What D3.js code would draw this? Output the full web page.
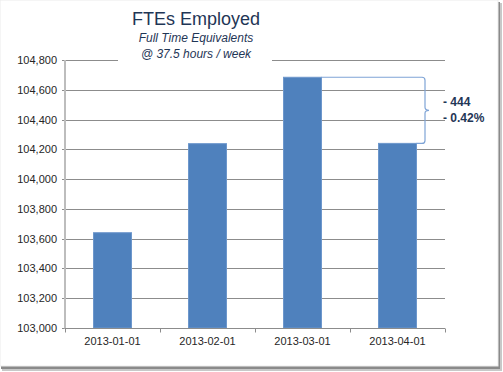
<!DOCTYPE html>
<html>
<head>
<meta charset="utf-8">
<script src="https://cdn.jsdelivr.net/npm/d3@7"></script>
<style>
  body { margin: 0; background: #fff; }
  svg { display: block; font-family: "Liberation Sans", Arial, sans-serif; }
</style>
</head>
<body>
<div id="plotholder"></div>
<script>
const categories = ['2013-01-01', '2013-02-01', '2013-03-01', '2013-04-01']
const fte = [103640, 104238, 104684, 104240]
const yticks = [103000, 103200, 103400, 103600, 103800, 104000, 104200, 104400, 104600, 104800]
const title = 'FTEs Employed'
const subtitles = ['Full Time Equivalents', '@ 37.5 hours / week']
const notes = ['- 444', '- 0.42%']

const width = 503
const height = 372
const margin = { left: 65, right: 58, top: 60, bottom: 44 }

const svg = d3.select('#plotholder').append('svg')
  .attr('width', width)
  .attr('height', height)

// frame with shadow on the right and bottom
svg.append('rect').attr('x', 2).attr('y', 3).attr('width', 500).attr('height', 368).attr('fill', '#c8c8c8')
svg.append('rect').attr('x', 1).attr('y', 2).attr('width', 499).attr('height', 367).attr('fill', '#8a8a8a')
svg.append('rect').attr('x', 0).attr('y', 0).attr('width', 498).attr('height', 366)
  .attr('fill', '#fff').attr('stroke', '#ececec').attr('stroke-width', 1)

const xscale = d3.scaleBand()
  .domain(categories)
  .range([margin.left, width - margin.right])
  .paddingInner(0.6)
  .paddingOuter(0.3)

const yscale = d3.scaleLinear()
  .domain([103000, 104800])
  .range([height - margin.bottom, margin.top])

// gridlines
svg.append('g').selectAll('line')
  .data(yticks)
  .enter()
  .append('line')
  .attr('x1', margin.left - 3)
  .attr('x2', width - margin.right)
  .attr('y1', d => Math.round(yscale(d)) + 0.5)
  .attr('y2', d => Math.round(yscale(d)) + 0.5)
  .attr('stroke', '#8c8c8c')
  .attr('stroke-width', 1)

// y tick labels
svg.append('g').selectAll('text')
  .data(yticks)
  .enter()
  .append('text')
  .attr('x', margin.left - 8)
  .attr('y', d => yscale(d) + 4)
  .attr('text-anchor', 'end')
  .attr('font-size', 11)
  .attr('fill', '#262626')
  .text(d => d3.format(',')(d))

// bars
svg.append('g').selectAll('rect')
  .data(fte)
  .enter()
  .append('rect')
  .attr('x', (d, i) => xscale(categories[i]))
  .attr('width', xscale.bandwidth())
  .attr('y', d => yscale(d))
  .attr('height', d => yscale(103000) - yscale(d))
  .attr('fill', '#4f81bd')
  .attr('stroke', '#6d97cc')
  .attr('stroke-width', 1)

// axes
const y0 = Math.round(yscale(103000)) + 0.5
svg.append('line')
  .attr('x1', margin.left).attr('x2', margin.left)
  .attr('y1', margin.top).attr('y2', y0)
  .attr('stroke', '#bdbdbd').attr('stroke-width', 2)
svg.append('line')
  .attr('x1', margin.left).attr('x2', width - margin.right)
  .attr('y1', y0).attr('y2', y0)
  .attr('stroke', '#8c8c8c')

const step = xscale.step()
const bounds = d3.range(categories.length + 1).map(i => margin.left + i * step)
svg.append('g').selectAll('line')
  .data(bounds)
  .enter()
  .append('line')
  .attr('x1', d => Math.round(d) + 0.5)
  .attr('x2', d => Math.round(d) + 0.5)
  .attr('y1', y0)
  .attr('y2', y0 + 4)
  .attr('stroke', '#8c8c8c')

svg.append('g').selectAll('text')
  .data(categories)
  .enter()
  .append('text')
  .attr('x', d => xscale(d) + xscale.bandwidth() / 2)
  .attr('y', y0 + 16)
  .attr('text-anchor', 'middle')
  .attr('font-size', 11)
  .attr('fill', '#262626')
  .text(d => d)

// title block (covers the top gridline)
svg.append('rect')
  .attr('x', 118).attr('y', 8).attr('width', 154).attr('height', 56)
  .attr('fill', '#fff')
svg.append('text')
  .attr('x', 196).attr('y', 25)
  .attr('text-anchor', 'middle')
  .attr('font-size', 18)
  .attr('fill', '#1f3656')
  .text(title)
svg.append('g').selectAll('text')
  .data(subtitles)
  .enter()
  .append('text')
  .attr('x', 196)
  .attr('y', (d, i) => 42 + i * 16)
  .attr('text-anchor', 'middle')
  .attr('font-size', 12)
  .attr('font-style', 'italic')
  .attr('fill', '#1f3656')
  .text(d => d)

// bracket showing the change between March and April
const x3 = xscale(categories[2]) + xscale.bandwidth()
const x4 = xscale(categories[3]) + xscale.bandwidth()
const ytop = yscale(fte[2])
const ybot = yscale(fte[3])
const bx = 425
const ymid = (ytop + ybot) / 2
const bracket = d3.path()
bracket.moveTo(x3, ytop)
bracket.lineTo(bx - 3, ytop)
bracket.quadraticCurveTo(bx, ytop, bx, ytop + 3)
bracket.lineTo(bx, ymid - 3)
bracket.quadraticCurveTo(bx, ymid, bx + 4, ymid)
bracket.moveTo(bx + 4, ymid)
bracket.quadraticCurveTo(bx, ymid, bx, ymid + 3)
bracket.lineTo(bx, ybot - 3)
bracket.quadraticCurveTo(bx, ybot, bx - 3, ybot)
bracket.lineTo(x4, ybot)
svg.append('path')
  .attr('d', bracket.toString())
  .attr('fill', 'none')
  .attr('stroke', '#7fa4d6')
  .attr('stroke-width', 1.2)

svg.append('g').selectAll('text')
  .data(notes)
  .enter()
  .append('text')
  .attr('x', 443)
  .attr('y', (d, i) => ymid - 4 + i * 16)
  .attr('font-size', 12)
  .attr('font-weight', 'bold')
  .attr('fill', '#1f3656')
  .text(d => d)
</script>
</body>
</html>
